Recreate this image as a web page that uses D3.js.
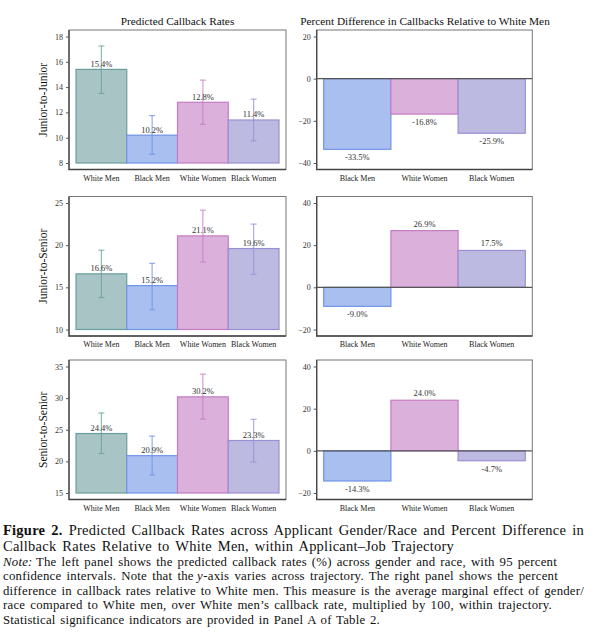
<!DOCTYPE html>
<html>
<head>
<meta charset="utf-8">
<script src="https://cdn.jsdelivr.net/npm/d3@7"></script>
<style>
  body { margin: 0; background: #fff; }
  svg { display: block; }
</style>
</head>
<body>
<div id="chart"></div>
<script>
// data
let groups = ['White Men', 'Black Men', 'White Women', 'Black Women']
let diffGroups = ['Black Men', 'White Women', 'Black Women']
let trajectories = ['Junior-to-Junior', 'Junior-to-Senior', 'Senior-to-Senior']
let rates = [
    [15.4, 10.2, 12.8, 11.4],
    [16.6, 15.2, 21.1, 19.6],
    [24.4, 20.9, 30.2, 23.3]
]
let ciLow = [
    [13.5, 8.7, 11.05, 9.75],
    [13.8, 12.35, 18.0, 16.55],
    [21.25, 17.85, 26.7, 19.9]
]
let ciHigh = [
    [17.25, 11.75, 14.55, 13.05],
    [19.4, 17.85, 24.15, 22.5],
    [27.65, 24.0, 33.8, 26.65]
]
let diffs = [
    [-33.5, -16.8, -25.9],
    [-9.0, 26.9, 17.5],
    [-14.3, 24.0, -4.7]
]
let leftTicks = [[8, 10, 12, 14, 16, 18], [10, 15, 20, 25], [15, 20, 25, 30, 35]]
let rightTicks = [[-40, -20, 0, 20], [-20, 0, 20, 40], [-20, 0, 20, 40]]

let fill = {
    'White Men': '#a8c4c4', 'Black Men': '#a9bff0',
    'White Women': '#dbb0da', 'Black Women': '#bcbae0'
}
let stroke = {
    'White Men': '#6a9e9c', 'Black Men': '#6e94e6',
    'White Women': '#c47cc4', 'Black Women': '#9a8fd4'
}

let w = 594, h = 633
let serif = 'Liberation Serif, Times New Roman, serif'
let rowTop = [30, 196.5, 360]
let rowH = 139.5
let inPad = 6.5
let leftX = [69, 286], rightX = [316.7, 532.3]

let svg = d3.select('#chart')
    .append('svg')
    .attr('width', w)
    .attr('height', h)
    .attr('font-family', serif)

let drawFrame = (g, x0, x1, top) => {
    g.append('rect')
        .attr('x', x0).attr('y', top)
        .attr('width', x1 - x0).attr('height', rowH)
        .attr('fill', 'none')
        .attr('stroke', '#777')
        .attr('stroke-width', 1)
    // heavier axis lines on left and bottom
    g.append('path')
        .attr('d', `M${x0},${top}V${top + rowH}H${x1}`)
        .attr('fill', 'none')
        .attr('stroke', '#444')
        .attr('stroke-width', 1.3)
}

let drawYAxis = (g, x0, y, ticks) => {
    let axis = d3.axisLeft(y).tickValues(ticks).tickSize(3).tickPadding(3).tickFormat(d3.format('d'))
    let ag = g.append('g')
        .attr('transform', `translate(${x0},0)`)
        .call(axis)
    ag.select('.domain').remove()
    ag.selectAll('line').attr('stroke', '#555')
    ag.selectAll('text')
        .attr('font-family', serif)
        .attr('font-size', 8)
        .attr('fill', '#333')
}

trajectories.forEach((traj, r) => {
    let top = rowTop[r], bottom = top + rowH

    //#region left panel: predicted rates
    let gl = svg.append('g')
    let yl = d3.scaleLinear()
        .domain(d3.extent(leftTicks[r]))
        .range([bottom - inPad, top + inPad])
    let xl = d3.scaleBand()
        .domain(groups)
        .range([leftX[0] + 7, leftX[1] - 7])
        .padding(0)
    let base = leftTicks[r][0]

    gl.selectAll('rect.bar')
        .data(groups)
        .enter()
        .append('rect')
        .attr('class', 'bar')
        .attr('x', d => xl(d))
        .attr('y', (d, i) => yl(rates[r][i]))
        .attr('width', xl.bandwidth())
        .attr('height', (d, i) => yl(base) - yl(rates[r][i]))
        .attr('fill', d => fill[d])
        .attr('stroke', d => stroke[d])
        .attr('stroke-width', 1.2)

    // error bars
    let eb = gl.selectAll('g.err')
        .data(groups)
        .enter()
        .append('g')
        .attr('class', 'err')
        .attr('stroke', d => stroke[d])
        .attr('stroke-opacity', 0.75)
        .attr('stroke-width', 1.2)
    eb.append('line')
        .attr('x1', d => xl(d) + xl.bandwidth() / 2)
        .attr('x2', d => xl(d) + xl.bandwidth() / 2)
        .attr('y1', (d, i) => yl(ciLow[r][i]))
        .attr('y2', (d, i) => yl(ciHigh[r][i]))
    eb.append('line')
        .attr('x1', d => xl(d) + xl.bandwidth() / 2 - 3)
        .attr('x2', d => xl(d) + xl.bandwidth() / 2 + 3)
        .attr('y1', (d, i) => yl(ciLow[r][i]))
        .attr('y2', (d, i) => yl(ciLow[r][i]))
    eb.append('line')
        .attr('x1', d => xl(d) + xl.bandwidth() / 2 - 3)
        .attr('x2', d => xl(d) + xl.bandwidth() / 2 + 3)
        .attr('y1', (d, i) => yl(ciHigh[r][i]))
        .attr('y2', (d, i) => yl(ciHigh[r][i]))

    gl.selectAll('text.val')
        .data(groups)
        .enter()
        .append('text')
        .attr('class', 'val')
        .text((d, i) => rates[r][i].toFixed(1) + '%')
        .attr('x', d => xl(d) + xl.bandwidth() / 2)
        .attr('y', (d, i) => yl(rates[r][i]) - 2.5)
        .attr('text-anchor', 'middle')
        .attr('font-size', 8.5)
        .attr('fill', '#333')

    drawFrame(gl, leftX[0], leftX[1], top)
    drawYAxis(gl, leftX[0], yl, leftTicks[r])

    gl.selectAll('text.xlab')
        .data(groups)
        .enter()
        .append('text')
        .attr('class', 'xlab')
        .text(d => d)
        .attr('x', d => xl(d) + xl.bandwidth() / 2)
        .attr('y', bottom + 11)
        .attr('text-anchor', 'middle')
        .attr('font-size', 8)
        .attr('fill', '#222')

    gl.append('text')
        .text(traj)
        .attr('transform', `translate(47,${top + rowH / 2}) rotate(-90)`)
        .attr('text-anchor', 'middle')
        .attr('font-size', 11.5)
        .attr('fill', '#111')
    //#endregion

    //#region right panel: percent difference
    let gr = svg.append('g')
    let yr = d3.scaleLinear()
        .domain(d3.extent(rightTicks[r]))
        .range([bottom - inPad, top + inPad])
    let xr = d3.scaleBand()
        .domain(diffGroups)
        .range([rightX[0] + 7, rightX[1] - 7])
        .padding(0)

    gr.selectAll('rect.bar')
        .data(diffGroups)
        .enter()
        .append('rect')
        .attr('class', 'bar')
        .attr('x', d => xr(d))
        .attr('y', (d, i) => yr(Math.max(0, diffs[r][i])))
        .attr('width', xr.bandwidth())
        .attr('height', (d, i) => Math.abs(yr(diffs[r][i]) - yr(0)))
        .attr('fill', d => fill[d])
        .attr('stroke', d => stroke[d])
        .attr('stroke-width', 1.2)

    gr.selectAll('text.val')
        .data(diffGroups)
        .enter()
        .append('text')
        .attr('class', 'val')
        .text((d, i) => diffs[r][i].toFixed(1) + '%')
        .attr('x', d => xr(d) + xr.bandwidth() / 2)
        .attr('y', (d, i) => diffs[r][i] < 0 ? yr(diffs[r][i]) + 11 : yr(diffs[r][i]) - 4)
        .attr('text-anchor', 'middle')
        .attr('font-size', 8.5)
        .attr('fill', '#333')

    gr.append('line')
        .attr('x1', rightX[0]).attr('x2', rightX[1])
        .attr('y1', yr(0)).attr('y2', yr(0))
        .attr('stroke', '#555')
        .attr('stroke-width', 1.3)

    drawFrame(gr, rightX[0], rightX[1], top)
    drawYAxis(gr, rightX[0], yr, rightTicks[r])

    gr.selectAll('text.xlab')
        .data(diffGroups)
        .enter()
        .append('text')
        .attr('class', 'xlab')
        .text(d => d)
        .attr('x', d => xr(d) + xr.bandwidth() / 2)
        .attr('y', bottom + 11)
        .attr('text-anchor', 'middle')
        .attr('font-size', 8)
        .attr('fill', '#222')
    //#endregion
})

// panel titles
svg.append('text')
    .text('Predicted Callback Rates')
    .attr('x', (leftX[0] + leftX[1]) / 2)
    .attr('y', 25)
    .attr('text-anchor', 'middle')
    .attr('font-size', 11.3)
    .attr('fill', '#111')
svg.append('text')
    .text('Percent Difference in Callbacks Relative to White Men')
    .attr('x', 425)
    .attr('y', 25)
    .attr('text-anchor', 'middle')
    .attr('font-size', 11.3)
    .attr('fill', '#111')

//#region caption
let capFont = 'Liberation Serif, Times New Roman, serif'
let captionLines = [
    { y: 534.5, w: 581, size: 14.5, parts: [['Figure 2.', 'bold'], ['Predicted Callback Rates across Applicant Gender/Race and Percent Difference in', '', 6]] },
    { y: 550.8, w: 451, size: 14.5, parts: [['Callback Rates Relative to White Men, within Applicant\u2013Job Trajectory', '']] },
    { y: 565.5, w: 554, size: 12.8, parts: [['Note:', 'italic'], ['The left panel shows the predicted callback rates (%) across gender and race, with 95 percent', '', 3.3]] },
    { y: 580, w: 555, size: 12.8, parts: [['confidence intervals. Note that the', ''], ['y', 'italic', 3.3], ['-axis varies across trajectory. The right panel shows the percent', '', 0.3]] },
    { y: 594.5, w: 581, size: 12.8, parts: [['difference in callback rates relative to White men. This measure is the average marginal effect of gender/', '']] },
    { y: 609, w: 549, size: 12.8, parts: [['race compared to White men, over White men\u2019s callback rate, multiplied by 100, within trajectory.', '']] },
    { y: 623.5, w: 377, size: 12.8, parts: [['Statistical significance indicators are provided in Panel A of Table 2.', '']] }
]
captionLines.forEach(line => {
    // each styled piece is its own text element, laid out one after another
    let pieces = line.parts.map(p => svg.append('text')
        .text(p[0])
        .attr('y', line.y)
        .attr('font-family', capFont)
        .attr('font-size', line.size)
        .attr('font-weight', p[1] === 'bold' ? 'bold' : 'normal')
        .attr('font-style', p[1] === 'italic' ? 'italic' : 'normal')
        .attr('fill', '#111'))
    let gaps = line.parts.map(p => p[2] || 0)
    let natural = d3.sum(pieces, t => t.node().getComputedTextLength())
    let spaces = d3.sum(line.parts, p => (p[0].match(/ /g) || []).length)
    let chars = d3.sum(line.parts, p => p[0].length)
    // spread the spare width over letters and words so the line ends where it does on the figure
    let extra = line.w - d3.sum(gaps) - natural
    let ls = extra * 0.5 / chars
    let ws = spaces ? extra * 0.5 / spaces : 0
    let x = 3
    pieces.forEach((t, i) => {
        t.attr('letter-spacing', ls).attr('word-spacing', ws)
        x += gaps[i]
        t.attr('x', x)
        x += t.node().getComputedTextLength()
    })
})
//#endregion
</script>
</body>
</html>
